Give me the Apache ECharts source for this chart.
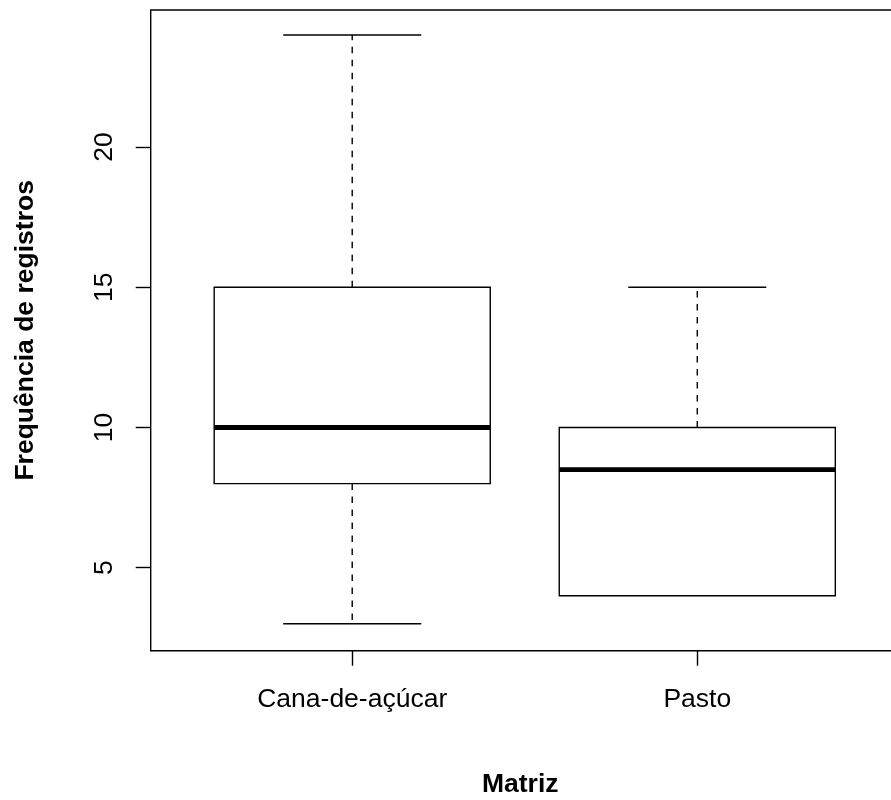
<!DOCTYPE html>
<html>
<head>
<meta charset="utf-8">
<script src="https://cdn.jsdelivr.net/npm/echarts@6/dist/echarts.min.js"></script>
<style>html,body{margin:0;padding:0;background:#fff;overflow:hidden;}#chart{width:891px;height:800px;}</style>
</head>
<body>
<div id="chart"></div>
<script>
// Data
const categories = ['Cana-de-açúcar', 'Pasto'];
const positions = [1, 2];
const mins = [3, 4];
const q1s = [8, 4];
const medians = [10, 8.5];
const q3s = [15, 10];
const maxs = [24, 15];
const yTicks = [5, 10, 15, 20];

const boxData = categories.map((c, i) => [positions[i], mins[i], q1s[i], medians[i], q3s[i], maxs[i]]);

const FONT = 'Liberation Sans, Arial, sans-serif';
const BOX_HALF = 0.4, CAP_HALF = 0.2;

const chart = echarts.init(document.getElementById('chart'));
chart.setOption({
  animation: false,
  backgroundColor: '#fff',
  grid: {
    left: 150.7, top: 10, width: 748.1, height: 640.7,
    containLabel: false, outerBoundsMode: 'none',
    show: true, borderColor: '#000', borderWidth: 1.4, backgroundColor: 'transparent'
  },
  xAxis: {
    type: 'value', min: 0.416, max: 2.584,
    name: 'Matriz', nameLocation: 'middle', nameGap: 120,
    nameTextStyle: { fontFamily: FONT, fontSize: 26.5, fontWeight: 'bold', color: '#000', padding: [0, 9, 0, 0] },
    axisLine: { show: false },
    splitLine: { show: false },
    axisTick: { show: true, customValues: positions, length: 15, lineStyle: { color: '#000', width: 1.4 } },
    axisLabel: {
      customValues: positions, margin: 35,
      formatter: v => categories[positions.indexOf(v)] || '',
      fontFamily: FONT, fontSize: 26.5, color: '#000'
    }
  },
  yAxis: {
    type: 'value', min: 2.04, max: 24.89,
    name: 'Frequência de registros', nameLocation: 'middle', nameGap: 112, nameRotate: 90,
    nameTextStyle: { fontFamily: FONT, fontSize: 26.5, fontWeight: 'bold', color: '#000' },
    axisLine: { show: false },
    splitLine: { show: false },
    axisTick: { show: true, customValues: yTicks, length: 15, lineStyle: { color: '#000', width: 1.4 } },
    axisLabel: {
      customValues: yTicks, rotate: 90, margin: 33,
      fontFamily: FONT, fontSize: 26.5, color: '#000'
    }
  },
  series: [{
    type: 'custom',
    data: boxData,
    clip: false,
    encode: { x: 0, y: [1, 2, 3, 4, 5] },
    renderItem: function (params, api) {
      const x = api.value(0);
      const mn = api.value(1), q1 = api.value(2), md = api.value(3), q3 = api.value(4), mx = api.value(5);
      const pL = api.coord([x - BOX_HALF, q3]);
      const pR = api.coord([x + BOX_HALF, q1]);
      const pC = api.coord([x, md]);
      const cL = api.coord([x - CAP_HALF, mx])[0];
      const cR = api.coord([x + CAP_HALF, mx])[0];
      const yMin = api.coord([x, mn])[1];
      const yMax = api.coord([x, mx])[1];
      const yQ1 = pR[1], yQ3 = pL[1];
      const thin = { stroke: '#000', lineWidth: 1.4, fill: null };
      const dash = { stroke: '#000', lineWidth: 1.4, lineDash: [6.5, 6.5] };
      const children = [];
      if (yMax < yQ3) {
        children.push({ type: 'line', shape: { x1: pC[0], y1: yQ3, x2: pC[0], y2: yMax }, style: dash });
        children.push({ type: 'line', shape: { x1: cL, y1: yMax, x2: cR, y2: yMax }, style: thin });
      }
      if (yMin > yQ1) {
        children.push({ type: 'line', shape: { x1: pC[0], y1: yQ1, x2: pC[0], y2: yMin }, style: dash });
        children.push({ type: 'line', shape: { x1: cL, y1: yMin, x2: cR, y2: yMin }, style: thin });
      }
      children.push({ type: 'rect', shape: { x: pL[0], y: yQ3, width: pR[0] - pL[0], height: yQ1 - yQ3 }, style: { stroke: '#000', lineWidth: 1.4, fill: '#fff' } });
      children.push({ type: 'line', shape: { x1: pL[0], y1: pC[1], x2: pR[0], y2: pC[1] }, style: { stroke: '#000', lineWidth: 4.8 } });
      return { type: 'group', children: children };
    }
  }]
});
</script>
</body>
</html>
